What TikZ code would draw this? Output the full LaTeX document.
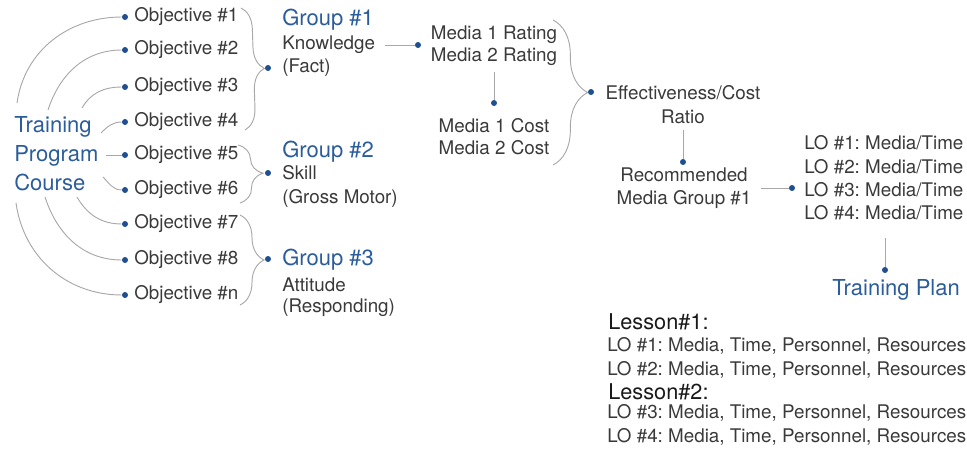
\documentclass[tikz,border=0pt]{standalone}
\usepackage{fontspec}
\setmainfont{TeX Gyre Heros}
\usepackage{tikz}
\usetikzlibrary{positioning,decorations.pathreplacing}
\definecolor{cblue}{HTML}{2B5C9B}
\definecolor{cdot}{HTML}{1F4F8F}
\definecolor{ctext}{HTML}{3A3A3A}
\definecolor{cline}{HTML}{A8A8A8}
\tikzset{
  txt/.style={font=\fontsize{14.1}{17.5}\selectfont, text=ctext, inner sep=0pt},
  head/.style={font=\fontsize{16.5}{21.5}\selectfont, text=cblue, inner sep=0pt},
  lesson/.style={font=\fontsize{16.3}{20}\selectfont, text=black!90, inner sep=0pt, anchor=west},
  bullet/.style={circle, fill=cdot, inner sep=0pt, minimum size=4.5pt},
  link/.style={draw=cline, line width=0.7pt},
  grp/.style={link, decorate, decoration={brace, amplitude=#1}},
}
\frenchspacing

\begin{document}
\begin{tikzpicture}[x=0.75pt,y=-0.75pt]
\useasboundingbox (0,0) rectangle (967,453);
% course and its objectives
\node[head, anchor=west, align=left, font=\fontsize{16.5}{21.75}\selectfont] (course) at (14,154) {Training\\Program\\Course};
\node[bullet] (b1) at (125,17) {};
\node[bullet] (b2) at (125,50) {};
\node[bullet] (b3) at (125,87) {};
\node[bullet] (b4) at (125,122) {};
\node[bullet] (b5) at (125,155) {};
\node[bullet] (b6) at (125,190) {};
\node[bullet] (b7) at (125,224) {};
\node[bullet] (b8) at (125,260) {};
\node[bullet] (b9) at (125,295) {};
\node[txt, anchor=west] (ob1) at (134,17) {Objective \#1};
\node[txt, anchor=west] (ob2) at (134,50) {Objective \#2};
\node[txt, anchor=west] (ob3) at (134,87) {Objective \#3};
\node[txt, anchor=west] (ob4) at (134,122) {Objective \#4};
\node[txt, anchor=west] (ob5) at (134,155) {Objective \#5};
\node[txt, anchor=west] (ob6) at (134,190) {Objective \#6};
\node[txt, anchor=west] (ob7) at (134,224) {Objective \#7};
\node[txt, anchor=west] (ob8) at (134,260) {Objective \#8};
\node[txt, anchor=west] (ob9) at (134,295) {Objective \#n};
\coordinate (s1) at (17,103);
\coordinate (s2) at (48,110);
\coordinate (s3) at (82,108);
\coordinate (s4) at (101,133);
\coordinate (s5) at (106,155);
\coordinate (s6) at (103,177);
\coordinate (s7) at (77,197);
\coordinate (s8) at (45,197);
\coordinate (s9) at (16,203);
\draw[link] (s1) to[out=82,in=180] (b1);
\draw[link] (s2) to[out=72,in=180] (b2);
\draw[link] (s3) to[out=60,in=180] (b3);
\draw[link] (s4) to[out=45,in=180] (b4);
\draw[link] (s5) -- (b5);
\draw[link] (s6) to[out=-45,in=180] (b6);
\draw[link] (s7) to[out=-60,in=180] (b7);
\draw[link] (s8) to[out=-72,in=180] (b8);
\draw[link] (s9) to[out=-82,in=180] (b9);
% groups
\coordinate (g1t) at (241,8);
\coordinate (g1b) at (245,130);
\coordinate (g2t) at (238,145);
\coordinate (g2b) at (240,203);
\coordinate (g3t) at (240,215);
\coordinate (g3b) at (240,305);
\draw[grp=16pt] (g1t) -- (g1b);
\draw[grp=18pt] (g2t) -- (g2b);
\draw[grp=18pt] (g3t) -- (g3b);
\node[bullet] (gd1) at (268,68) {};
\node[bullet] (gd2) at (268,173) {};
\node[bullet] (gd3) at (268,259) {};
\node[head, anchor=west] (g1) at (282,20) {Group \#1};
\node[txt, anchor=west] (know) at (282,45) {Knowledge};
\node[txt, anchor=west] (fact) at (282,68) {(Fact)};
\node[head, anchor=west] (g2) at (282,152) {Group \#2};
\node[txt, anchor=west] (skill) at (282,173) {Skill};
\node[txt, anchor=west] (gross) at (282,198) {(Gross Motor)};
\node[head, anchor=west] (g3) at (282,260) {Group \#3};
\node[txt, anchor=west] (att) at (282,285) {Attitude};
\node[txt, anchor=west] (resp) at (282,308) {(Responding)};
% media rating and cost
\node[bullet] (m1) at (418,45) {};
\draw[link, shorten <=7.5pt] (know) -- (m1);
\node[txt, align=center, font=\fontsize{14.1}{16.5}\selectfont] (rate) at (494,46) {Media 1 Rating\\Media 2 Rating};
\node[bullet] (m2) at (494,103) {};
\draw[link, shorten <=4.5pt] (rate) -- (m2);
\node[txt, align=center, font=\fontsize{14.1}{16.5}\selectfont] (cost) at (494,137) {Media 1 Cost\\Media 2 Cost};
\coordinate (mt) at (553,20);
\coordinate (mb) at (553,165);
\draw[grp=26pt] (mt) -- (mb);
\node[bullet] (e1) at (591,92) {};
\node[txt, align=center, font=\fontsize{14.1}{18}\selectfont] (eff) at (683,105) {Effectiveness/Cost\\Ratio};
\node[bullet] (r1) at (683,162) {};
\draw[link, shorten <=4pt] (eff) -- (r1);
\node[txt, align=center] (rec) at (684,188) {Recommended\\Media Group \#1};
\node[bullet] (l1) at (792,188) {};
\draw[link, shorten <=6.75pt] (rec) -- (l1);
\node[txt, anchor=west, align=left] (lo) at (804,178) {LO \#1: Media/Time\\LO \#2: Media/Time\\LO \#3: Media/Time\\LO \#4: Media/Time};
\node[bullet] (p1) at (885,270) {};
\draw[link, shorten <=13pt] (lo.south -| p1) -- (p1);
\node[head, anchor=west] (plan) at (832,290) {Training Plan};
% lessons
\node[lesson] (les1) at (608,322) {Lesson\#1:};
\node[txt, anchor=west, align=left] (les1lo) at (607,358) {LO \#1: Media, Time, Personnel, Resources\\LO \#2: Media, Time, Personnel, Resources};
\node[lesson] (les2) at (608,392) {Lesson\#2:};
\node[txt, anchor=west, align=left] (les2lo) at (607,425) {LO \#3: Media, Time, Personnel, Resources\\LO \#4: Media, Time, Personnel, Resources};
\end{tikzpicture}
\end{document}
